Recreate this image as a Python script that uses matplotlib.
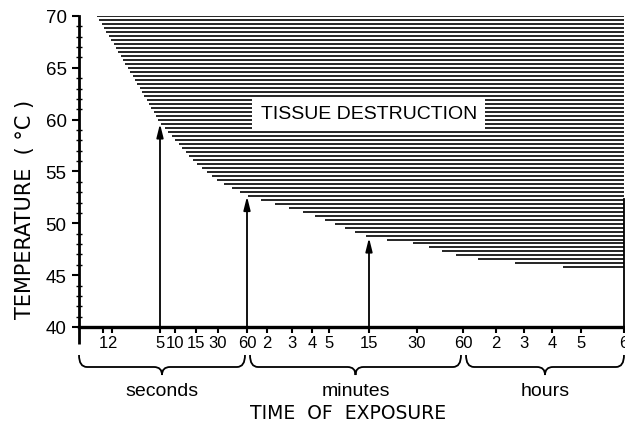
import numpy as np
import matplotlib
matplotlib.use("Agg")
import matplotlib.pyplot as plt
from matplotlib.path import Path
from matplotlib.patches import PathPatch, FancyArrowPatch

# ---------------- data ----------------
# schematic (non-uniform) time axis: knot times (s) and their relative axis positions
scale_time_s = [0, 1, 2, 5, 10, 15, 30, 60, 120, 180, 240, 300, 900, 1800,
                3600, 7200, 10800, 14400, 18000, 21600]
scale_pos = [0, 24, 33, 81, 96, 117, 139, 168, 188, 213, 233, 250, 290, 338,
             384, 417, 445, 473, 502, 545]

tick_times_s = [1, 2, 5, 10, 15, 30, 60, 120, 180, 240, 300, 900, 1800,
                3600, 7200, 10800, 14400, 18000, 21600]
tick_labels = ["1", "2", "5", "10", "15", "30", "60", "2", "3", "4", "5",
               "15", "30", "60", "2", "3", "4", "5", "6"]

# threshold of tissue destruction (deg C) vs exposure time (s)
exposure_s = [0.75, 1, 2, 5, 10, 15, 30, 60, 120, 180, 240, 300, 900, 1800,
              3600, 7200, 10800, 14400, 18000, 21600]
threshold_c = [70.0, 69.0, 67.6, 59.7, 58.1, 55.8, 54.15, 52.7, 52.1, 51.45,
               50.85, 50.2, 48.7, 48.0, 46.7, 46.3, 46.05, 45.8, 45.65, 45.4]

arrow_times_s = [5, 60, 900]
segments = [("seconds", 0, 60), ("minutes", 60, 3600), ("hours", 3600, 21600)]

# ---------------- figure ----------------
W, H = 625, 431
fig = plt.figure(figsize=(W / 100, H / 100), dpi=100)
ax = fig.add_axes([79 / W, 1 - 328 / H, 545 / W, 311 / H])

narrow = ["Liberation Sans", "DejaVu Sans"]


def fwd(t):
    return np.interp(t, scale_time_s, scale_pos)


def inv(p):
    return np.interp(p, scale_pos, scale_time_s)


ax.set_xscale("function", functions=(fwd, inv))
ax.set_xlim(0, 21600)
ax.set_ylim(40, 70)

# hatched region of tissue destruction
bpos = fwd(np.array(exposure_s))
thr = np.array(threshold_c)
levels = np.arange(70.0, thr.min(), -0.385)
starts = inv(np.interp(levels, thr[::-1], bpos[::-1]))
ax.hlines(levels, starts, 21600, colors="black", linewidth=1.2, zorder=1)

# arrows
for t in arrow_times_s:
    tt = np.interp(fwd(t), bpos, thr)
    ar = FancyArrowPatch((t, 40), (t, tt - 0.1),
                         arrowstyle="-|>,head_length=8,head_width=2",
                         mutation_scale=1, color="black", linewidth=1.3,
                         shrinkA=0, shrinkB=0, zorder=3)
    ax.add_patch(ar)

ax.text(0.532, 0.685, "TISSUE DESTRUCTION", fontsize=14,
        family=narrow, ha="center", va="center", zorder=4,
        transform=ax.transAxes,
        bbox=dict(facecolor="white", edgecolor="none", pad=6))

# axes styling
ax.spines["top"].set_visible(False)
ax.spines["right"].set_bounds(40, 52.3)
ax.spines["right"].set_linewidth(1.3)
ax.spines["bottom"].set_linewidth(2.4)
ax.spines["left"].set_linewidth(2.0)
ax.plot([0, 0], [-17 / 311, 0], transform=ax.transAxes, color="black",
        linewidth=2.0, clip_on=False, solid_capstyle="butt")

ax.set_yticks(np.arange(40, 71, 5))
ax.set_yticks(np.arange(40, 71, 1), minor=True)
ax.tick_params(axis="y", which="major", direction="out", length=5,
               width=1.5, pad=4, labelsize=13.5)
ax.tick_params(axis="y", which="minor", direction="inout", length=5, width=1.0)
for lab in ax.get_yticklabels():
    lab.set_family(narrow)

ax.set_xticks(tick_times_s)
ax.set_xticklabels(tick_labels, family=narrow, fontsize=12)
ax.xaxis.set_minor_locator(matplotlib.ticker.NullLocator())
ax.tick_params(axis="x", which="major", direction="out", length=4,
               width=1.5, pad=2)

fig.text(25 / W, 1 - 209 / H, "TEMPERATURE  ( °C )", rotation=90,
         ha="center", va="center", fontsize=15, family="DejaVu Sans")
fig.text(348 / W, 1 - 414 / H, "TIME  OF  EXPOSURE", ha="center",
         va="center", fontsize=13.5, family="DejaVu Sans")

# braces below axis
fig.canvas.draw()


def brace(x0, x1, y_top, y_mid, y_tip, r=8):
    xc = (x0 + x1) / 2
    pts = [(x0, y_top), (x0, y_mid), (x0 + r, y_mid),
           (xc - r, y_mid), (xc, y_mid), (xc, y_tip),
           (xc, y_mid), (xc + r, y_mid),
           (x1 - r, y_mid), (x1, y_mid), (x1, y_top)]
    codes = [Path.MOVETO, Path.CURVE3, Path.CURVE3, Path.LINETO, Path.CURVE3,
             Path.CURVE3, Path.CURVE3, Path.CURVE3, Path.LINETO, Path.CURVE3,
             Path.CURVE3]
    verts = [(x / W, 1 - y / H) for x, y in pts]
    fig.add_artist(PathPatch(Path(verts, codes), transform=fig.transFigure,
                             facecolor="none", edgecolor="black",
                             linewidth=1.3))
    return xc


for i, (name, t0, t1) in enumerate(segments):
    x0 = ax.transData.transform((t0, 40))[0]
    x1 = ax.transData.transform((t1, 40))[0]
    x0 = x0 + (0 if i == 0 else 3)
    x1 = x1 - (2 if i < 2 else 0)
    xc = brace(x0, x1, 356, 368, 376)
    fig.text(xc / W, 1 - 392 / H, name, ha="center", va="center",
             fontsize=14, family=narrow)

fig.savefig("out.png", dpi=100)
